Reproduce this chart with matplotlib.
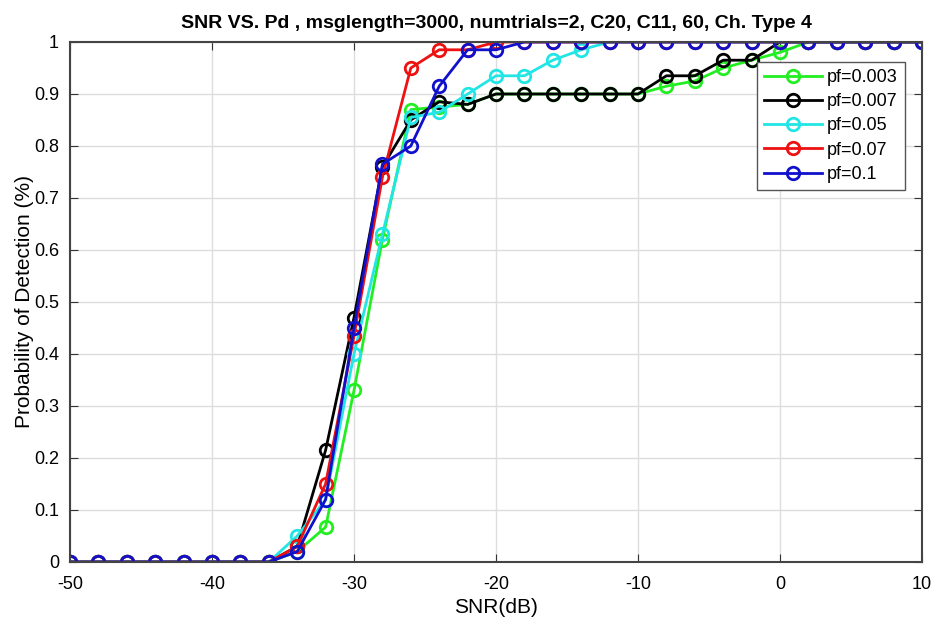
import numpy as np
import matplotlib
matplotlib.use('Agg')
import matplotlib.pyplot as plt

plt.rcParams['font.family'] = ['Liberation Sans', 'DejaVu Sans']
plt.rcParams['axes.unicode_minus'] = False

# SNR axis, -50..10 dB in 2 dB steps
snr = np.arange(-50, 11, 2)

# values (start at -36 dB, before that all zero)
zeros = [0.0] * 7
pd_003 = zeros + [0.0, 0.02, 0.067, 0.33, 0.62, 0.87, 0.875, 0.88, 0.90, 0.90, 0.90, 0.90, 0.90, 0.90, 0.915,
                  0.925, 0.95, 0.965, 0.98, 1.0, 1.0, 1.0, 1.0, 1.0]
pd_007 = zeros + [0.0, 0.03, 0.215, 0.47, 0.76, 0.85, 0.885, 0.88, 0.90, 0.90, 0.90, 0.90, 0.90, 0.90, 0.935,
                  0.935, 0.965, 0.965, 1.0, 1.0, 1.0, 1.0, 1.0, 1.0]
pd_05 = zeros + [0.0, 0.05, 0.12, 0.40, 0.63, 0.855, 0.865, 0.90, 0.935, 0.935, 0.965, 0.985, 1.0, 1.0, 1.0,
                 1.0, 1.0, 1.0, 1.0, 1.0, 1.0, 1.0, 1.0, 1.0]
pd_07 = zeros + [0.0, 0.03, 0.15, 0.435, 0.74, 0.95, 0.985, 0.985, 1.0, 1.0, 1.0, 1.0, 1.0, 1.0, 1.0,
                 1.0, 1.0, 1.0, 1.0, 1.0, 1.0, 1.0, 1.0, 1.0]
pd_1 = zeros + [0.0, 0.02, 0.12, 0.45, 0.765, 0.80, 0.915, 0.985, 0.985, 1.0, 1.0, 1.0, 1.0, 1.0, 1.0,
                1.0, 1.0, 1.0, 1.0, 1.0, 1.0, 1.0, 1.0, 1.0]

series = [
    ('pf=0.003', pd_003, '#22ee22'),
    ('pf=0.007', pd_007, 'black'),
    ('pf=0.05', pd_05, '#22e5e5'),
    ('pf=0.07', pd_07, '#ee1111'),
    ('pf=0.1', pd_1, '#1111cc'),
]

fig = plt.figure(figsize=(9.33, 6.28), dpi=100)
ax = fig.add_axes([70 / 933, 66 / 628, 852 / 933, 520 / 628])

for label, vals, col in series:
    ax.plot(snr, vals, '-o', color=col, label=label, lw=2, ms=9,
            mfc='none', mew=2)

ax.set_xlim(-50, 10)
ax.set_ylim(0, 1)
ax.set_xticks(np.arange(-50, 11, 10))
ax.set_yticks(np.arange(0, 1.01, 0.1))
ax.set_yticklabels(['0', '0.1', '0.2', '0.3', '0.4', '0.5', '0.6', '0.7', '0.8', '0.9', '1'])
ax.grid(True, color='#dddddd', lw=1)
ax.set_axisbelow(True)
ax.tick_params(labelsize=13, direction='in', length=6, color='#333333',
               top=True, right=True)
ax.tick_params(axis='x', pad=10)
ax.tick_params(axis='y', pad=8)
for s in ax.spines.values():
    s.set_color('#444444')
    s.set_linewidth(1.5)

ax.set_xlabel('SNR(dB)', fontsize=15, labelpad=4)
ax.set_ylabel('Probability of Detection (%)', fontsize=15, labelpad=0)
ax.set_title('SNR VS. Pd , msglength=3000, numtrials=2, C20, C11, 60, Ch. Type 4',
             fontsize=14, fontweight='bold', pad=10)

leg = ax.legend(loc='upper right', bbox_to_anchor=(0.98, 0.962), fontsize=13,
                fancybox=False, framealpha=1, edgecolor='#555555',
                handlelength=3.2, borderaxespad=0.0, labelspacing=0.4,
                handletextpad=0.3, borderpad=0.4)

fig.savefig('out.png', dpi=100)
